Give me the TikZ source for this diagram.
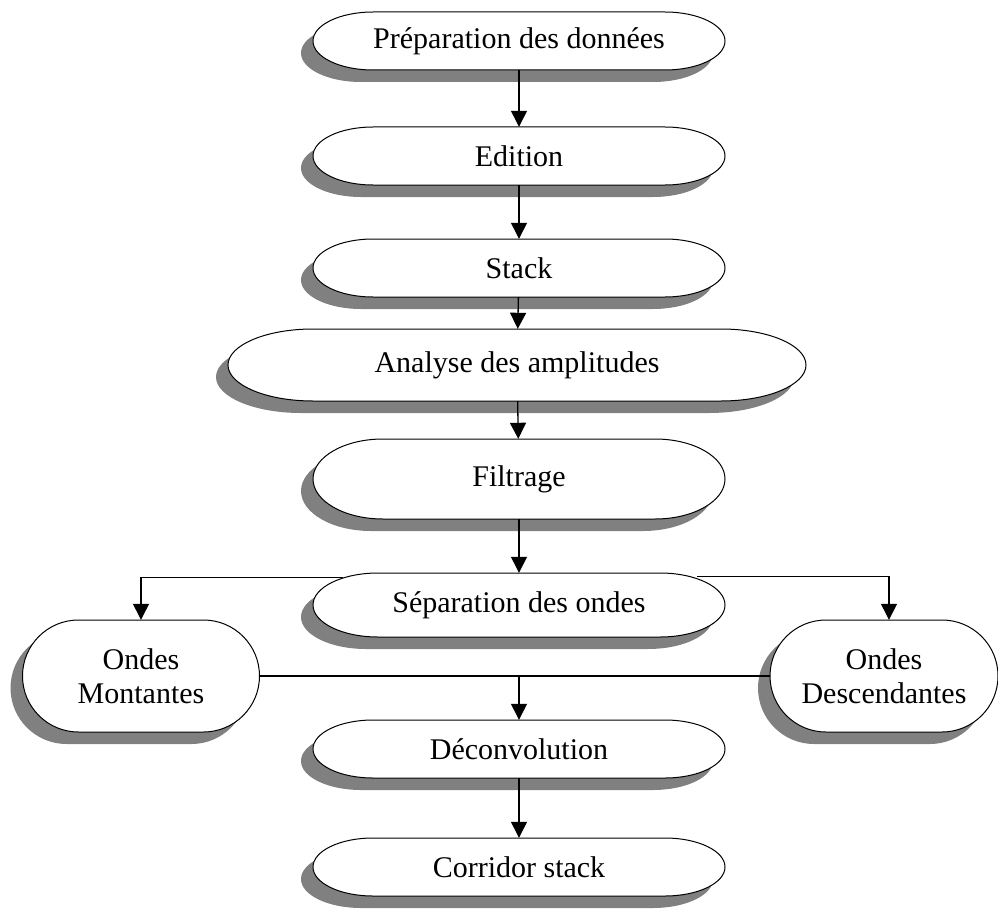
\documentclass[tikz,border=0pt]{standalone}
\usepackage{fontspec}
\setmainfont{Liberation Serif}
\usetikzlibrary{arrows.meta}
\definecolor{shadowgray}{HTML}{808080}
\newcommand\capsule[5]{%
  \fill[shadowgray] ({#1-#3/2+#5-12},{#2+#4/2-12}) -- ++({#3-2*#5},0)
    arc[start angle=90,end angle=-90,x radius=#5,y radius=#4/2] -- ++({-(#3-2*#5)},0)
    arc[start angle=270,end angle=90,x radius=#5,y radius=#4/2] -- cycle;
  \filldraw[fill=white,draw=black,line width=1pt] ({#1-#3/2+#5},{#2+#4/2}) -- ++({#3-2*#5},0)
    arc[start angle=90,end angle=-90,x radius=#5,y radius=#4/2] -- ++({-(#3-2*#5)},0)
    arc[start angle=270,end angle=90,x radius=#5,y radius=#4/2] -- cycle;
}
\tikzset{
  lbl/.style={inner sep=0pt,align=center,font=\fontsize{30}{34}\selectfont},
  arr/.style={line width=1.3pt,-{Triangle[width=16pt,length=16pt]}},
  ln/.style={line width=1.3pt}
}
\begin{document}
\begin{tikzpicture}[x=1pt,y=1pt]
\useasboundingbox (0,0) rectangle (998,-923);
% shapes
\capsule{519}{-41}{412}{58}{60}
\capsule{519}{-156}{412}{58}{60}
\capsule{519}{-268}{412}{58}{60}
\capsule{517}{-365}{578}{72}{85}
\capsule{519}{-479}{412}{80}{70}
\capsule{519}{-605}{412}{64}{65}
\capsule{141}{-676}{237}{112}{56}
\capsule{884}{-676}{228}{112}{56}
\capsule{519}{-749}{412}{58}{60}
\capsule{519}{-867}{412}{58}{60}
% nodes
\node[lbl,minimum width=412pt,minimum height=58pt] (prep) at (519,-41) {Préparation des données};
\node[lbl,minimum width=412pt,minimum height=58pt] (edit) at (519,-156) {Edition};
\node[lbl,minimum width=412pt,minimum height=58pt] (stack) at (519,-268) {Stack};
\node[lbl,minimum width=578pt,minimum height=72pt] (anal) at (517,-365) {Analyse des amplitudes};
\node[lbl,minimum width=412pt,minimum height=80pt] (filt) at (519,-479) {Filtrage};
\node[lbl,minimum width=412pt,minimum height=64pt] (sep) at (519,-605) {Séparation des ondes};
\node[lbl,minimum width=237pt,minimum height=112pt] (mont) at (141,-676) {Ondes\\Montantes};
\node[lbl,minimum width=228pt,minimum height=112pt] (desc) at (884,-676) {Ondes\\Descendantes};
\node[lbl,minimum width=412pt,minimum height=58pt] (dec) at (519,-749) {Déconvolution};
\node[lbl,minimum width=412pt,minimum height=58pt] (corr) at (519,-867) {Corridor stack};
% connectors
\draw[arr] (prep) -- (edit);
\draw[arr] (edit) -- (stack);
\draw[arr] (stack) -- (anal);
\draw[arr] (anal) -- (filt);
\draw[arr] (filt) -- (sep);
\coordinate (sepl) at ([xshift=30pt,yshift=-5pt]sep.north west);
\coordinate (sepr) at ([xshift=-28pt,yshift=-4pt]sep.north east);
\draw[arr] (sepl) -| (mont.north);
\draw[arr] (sepr) -| ([xshift=5pt]desc.north);
\draw[ln] (mont.east) -- (desc.west);
\coordinate (mid) at (mont.east -| dec.north);
\draw[arr] (mid) -- (dec.north);
\draw[arr] (dec) -- (corr);
\end{tikzpicture}
\end{document}
